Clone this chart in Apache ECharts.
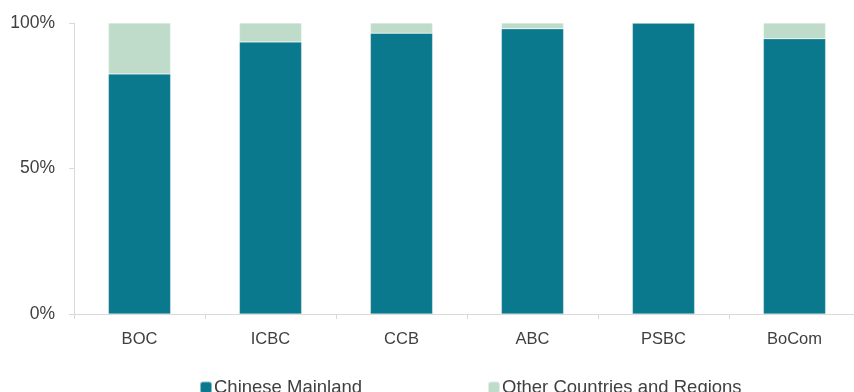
<!DOCTYPE html>
<html>
<head>
<meta charset="utf-8">
<script src="https://cdn.jsdelivr.net/npm/echarts@6/dist/echarts.min.js"></script>
<style>html,body{margin:0;padding:0;background:#fff;}#c{width:854px;height:392px;}</style>
</head>
<body>
<div id="c"></div>
<script>
const categories = ['BOC', 'ICBC', 'CCB', 'ABC', 'PSBC', 'BoCom'];
const mainland = [82.5, 93.5, 96.5, 98, 100, 94.6];
const others = [17.5, 6.5, 3.5, 2, 0, 5.4];
const yTicks = [0, 50, 100];

const chart = echarts.init(document.getElementById('c'), null, {renderer: 'canvas'});
const font = 'Liberation Sans, Arial, sans-serif';
chart.setOption({
  animation: false,
  grid: {left: 74, top: 23, height: 291, width: 786, containLabel: false, outerBoundsMode: 'none'},
  legend: [
    {data: ['Chinese Mainland'], left: 194, top: 373, itemWidth: 12, itemHeight: 12, itemGap: 0,
     textStyle: {fontFamily: font, fontSize: 18.5, color: '#404040', padding: [0,0,0,-3]}},
    {data: ['Other Countries and Regions'], left: 482, top: 373, itemWidth: 12, itemHeight: 12,
     textStyle: {fontFamily: font, fontSize: 18.5, color: '#404040', padding: [0,0,0,-3]}}
  ],
  xAxis: {
    type: 'category', data: categories,
    axisLine: {lineStyle: {color: '#d9d9d9', width: 1}},
    axisTick: {show: true, alignWithLabel: false, length: 5, lineStyle: {color: '#d9d9d9'}},
    axisLabel: {fontFamily: font, fontSize: 16.5, color: '#404040', margin: 17}
  },
  yAxis: {
    type: 'value', min: 0, max: 100, interval: 50,
    axisLine: {show: true, lineStyle: {color: '#d9d9d9', width: 1}},
    axisTick: {show: true, length: 5, lineStyle: {color: '#d9d9d9'}},
    splitLine: {show: false},
    axisLabel: {fontFamily: font, fontSize: 17.5, color: '#404040', margin: 19,
      formatter: v => yTicks.includes(v) ? v + '%' : ''}
  },
  series: [
    {name: 'Chinese Mainland', type: 'bar', stack: 't', data: mainland, barWidth: '47.5%',
     itemStyle: {color: '#0A788D', borderColor: 'rgba(255,255,255,0.5)', borderWidth: 0.5}},
    {name: 'Other Countries and Regions', type: 'bar', stack: 't', data: others, barWidth: '47.5%',
     itemStyle: {color: '#BFDCCB', borderColor: 'rgba(255,255,255,0.5)', borderWidth: 0.5}}
  ]
});
</script>
</body>
</html>
